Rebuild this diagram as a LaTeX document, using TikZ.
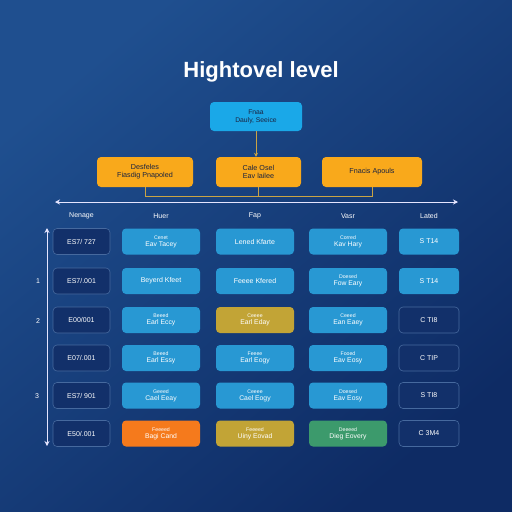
\documentclass[tikz,border=0pt]{standalone}
\usepackage{fontspec}
\setmainfont{Liberation Sans}
\usetikzlibrary{arrows.meta}
\definecolor{bgA}{HTML}{1F4F8F}
\definecolor{bgB}{HTML}{0E2B64}
\definecolor{cyanbox}{HTML}{1AA8E8}
\definecolor{amber}{HTML}{F9A91B}
\definecolor{cellblue}{HTML}{2898D3}
\definecolor{cellorange}{HTML}{F57A1C}
\definecolor{cellolive}{HTML}{C2A436}
\definecolor{cellgreen}{HTML}{3C9A6C}
\definecolor{outl}{HTML}{46699E}
\definecolor{darkfill}{HTML}{12306A}
\definecolor{wire}{HTML}{C9A445}
\definecolor{darktext}{HTML}{1A2340}
\newcommand{\twoln}[2]{{\fontsize{5.2}{5.6}\selectfont #1}\\[-1pt]{\fontsize{6.8}{7.5}\selectfont #2}}
\tikzset{
  cellbox/.style={rounded corners=4pt, minimum height=26pt, inner sep=1pt, align=center, text=white, font=\fontsize{7}{8}\selectfont},
  wide/.style={minimum width=78pt},
  blue/.style={cellbox, wide, fill=cellblue},
  oran/.style={cellbox, wide, fill=cellorange},
  oliv/.style={cellbox, wide, fill=cellolive},
  gren/.style={cellbox, wide, fill=cellgreen},
  outc/.style={cellbox, minimum width=57pt, draw=outl, line width=0.6pt, fill=darkfill},
  outd/.style={cellbox, minimum width=60pt, draw=outl, line width=0.6pt, fill=darkfill},
  bluen/.style={cellbox, minimum width=60pt, fill=cellblue},
  hdr/.style={text=white, font=\fontsize{7}{8}\selectfont},
  topbox/.style={rounded corners=4pt, fill=cyanbox, text=darktext, align=center, minimum height=29pt, minimum width=92pt, font=\fontsize{6.8}{7.8}\selectfont, inner sep=1pt},
  ambbox/.style={rounded corners=4pt, fill=amber, text=darktext, align=center, minimum height=30pt, font=\fontsize{7.2}{8.2}\selectfont, inner sep=1pt},
  wireline/.style={draw=wire, line width=0.9pt},
  whitearrow/.style={draw=white!90!blue, line width=1pt, {Stealth[length=5pt,width=5pt]}-{Stealth[length=5pt,width=5pt]}}
}
\begin{document}
\begin{tikzpicture}[x=1pt,y=-1pt]
\useasboundingbox (0,0) rectangle (512,512);
\shade[shading=axis, top color=bgA, bottom color=bgB, shading angle=40] (0,0) rectangle (512,512);

\node[text=white, font=\fontsize{22}{25}\bfseries\selectfont] (title) at (261,72) {Hightovel level};

\node[topbox] (top) at (256,116.5) {Fnaa\\Dauly, Seeice};
\node[ambbox, minimum width=96pt] (oL) at (145,172) {Desfeles\\Fiasdig Pnapoled};
\node[ambbox, minimum width=85pt] (oM) at (258.5,172) {Cale Osel\\Eav lailee};
\node[ambbox, minimum width=100pt] (oR) at (372,172) {Fnacis Apouls};

\draw[wireline, -{Stealth[length=4pt,width=4pt]}] (top.south) -- (top.south |- oM.north);
\coordinate (busL) at (oL.south |- 0,196);
\coordinate (busR) at (oR.south |- 0,196);
\coordinate (busM) at (oM.south |- 0,196);
\draw[wireline] (oL.south) -- (busL) -- (busR) -- (oR.south);
\draw[wireline] (oM.south) -- (busM);

\coordinate (ha) at (55,202);
\coordinate (hb) at (458,202);
\draw[whitearrow] (ha) -- (hb);
\coordinate (va) at (47,228);
\coordinate (vb) at (47,446);
\draw[whitearrow] (va) -- (vb);

\node[hdr] (h1) at (81.5,216) {Nenage};
\node[hdr] (h2) at (161,216) {Huer};
\node[hdr] (h3) at (255,216) {Fap};
\node[hdr] (h4) at (348,216) {Vasr};
\node[hdr] (h5) at (429,216) {Lated};

\node[hdr] (n1) at (38,281) {1};
\node[hdr] (n2) at (38,321) {2};
\node[hdr] (n3) at (37,396) {3};

% row 1
\node[outc] (a1) at (81.5,241.5) {ES7/ 727};
\node[blue] (b1) at (161,241.5) {\twoln{Cenet}{Eav Tacey}};
\node[blue] (c1) at (255,241.5) {Lened Kfarte};
\node[blue] (d1) at (348,241.5) {\twoln{Corred}{Kav Hary}};
\node[bluen] (e1) at (429,241.5) {S T14};
% row 2
\node[outc] (a2) at (81.5,281) {ES7/.001};
\node[blue] (b2) at (161,281) {Beyerd Kfeet};
\node[blue] (c2) at (255,281) {Feeee Kfered};
\node[blue] (d2) at (348,281) {\twoln{Doesed}{Fow Eary}};
\node[bluen] (e2) at (429,281) {S T14};
% row 3
\node[outc] (a3) at (81.5,320) {E00/001};
\node[blue] (b3) at (161,320) {\twoln{Beeed}{Earl Eccy}};
\node[oliv] (c3) at (255,320) {\twoln{Ceeee}{Earl Eday}};
\node[blue] (d3) at (348,320) {\twoln{Ceeed}{Ean Eaey}};
\node[outd] (e3) at (429,320) {C TI8};
% row 4
\node[outc] (a4) at (81.5,358) {E07/.001};
\node[blue] (b4) at (161,358) {\twoln{Beeed}{Earl Essy}};
\node[blue] (c4) at (255,358) {\twoln{Feeee}{Earl Eogy}};
\node[blue] (d4) at (348,358) {\twoln{Fooed}{Eav Eosy}};
\node[outd] (e4) at (429,358) {C TIP};
% row 5
\node[outc] (a5) at (81.5,395.5) {ES7/ 901};
\node[blue] (b5) at (161,395.5) {\twoln{Geeed}{Cael Eeay}};
\node[blue] (c5) at (255,395.5) {\twoln{Ceeee}{Cael Eogy}};
\node[blue] (d5) at (348,395.5) {\twoln{Doesed}{Eav Eosy}};
\node[outd] (e5) at (429,395.5) {S TI8};
% row 6
\node[outc] (a6) at (81.5,433.5) {E50/.001};
\node[oran] (b6) at (161,433.5) {\twoln{Feeeed}{Bagi Cand}};
\node[oliv] (c6) at (255,433.5) {\twoln{Feeeed}{Uiny Eovad}};
\node[gren] (d6) at (348,433.5) {\twoln{Deeeed}{Dieg Eovery}};
\node[outd] (e6) at (429,433.5) {C 3M4};
\end{tikzpicture}
\end{document}
